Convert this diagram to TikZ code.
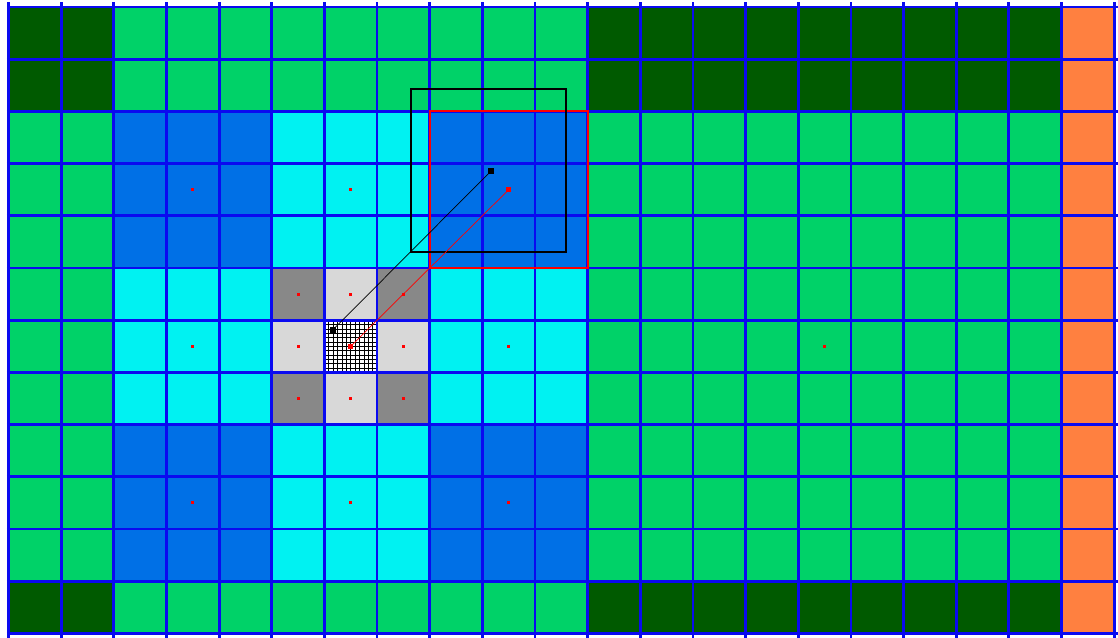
\documentclass[tikz,border=0pt]{standalone}
\definecolor{dkgreen}{RGB}{0,90,0}
\definecolor{ltgreen}{RGB}{0,210,104}
\definecolor{blk}{RGB}{0,112,230}
\definecolor{cyn}{RGB}{0,242,242}
\definecolor{gry}{RGB}{136,136,136}
\definecolor{lgry}{RGB}{216,216,216}
\definecolor{orng}{RGB}{255,128,64}
\definecolor{gridblue}{RGB}{10,10,240}
\tikzset{
  gridline/.style={draw=gridblue, line width=2.8pt},
  fineline/.style={draw=black, line width=0.7pt},
  reddot/.style={rectangle, fill=red, inner sep=0pt, minimum size=3pt},
  redsq/.style={rectangle, fill=red, inner sep=0pt, minimum size=5.5pt},
  blacksq/.style={rectangle, fill=black, inner sep=0pt, minimum size=6pt},
  link/.style={line width=0.7pt},
}
\begin{document}
\begin{tikzpicture}[x=52.65pt,y=-52.2pt]
\useasboundingbox (-0.1614,-0.1341) rectangle (21.0731,12.069);
% base fills
\fill[ltgreen] (0,0) rectangle (20,12);
\fill[orng] (20,0) rectangle (21,12);
\fill[dkgreen] (0,0) rectangle (2,2) (11,0) rectangle (20,2)
               (0,11) rectangle (2,12) (11,11) rectangle (20,12);
\fill[blk] (2,2) rectangle (5,5) (8,2) rectangle (11,5)
           (2,8) rectangle (5,11) (8,8) rectangle (11,11);
\fill[cyn] (5,2) rectangle (8,5) (2,5) rectangle (5,8)
           (8,5) rectangle (11,8) (5,8) rectangle (8,11);
\fill[gry] (5,5) rectangle (6,6) (7,5) rectangle (8,6)
           (5,7) rectangle (6,8) (7,7) rectangle (8,8);
\fill[lgry] (6,5) rectangle (7,6) (5,6) rectangle (6,7)
            (7,6) rectangle (8,7) (6,7) rectangle (7,8);
\fill[white] (6,6) rectangle (7,7);
% fine grid in the centre cell
\foreach \i in {1,...,11} {
  \draw[fineline] ({6+\i/12},6) -- ({6+\i/12},7);
  \draw[fineline] (6,{6+\i/12}) -- (7,{6+\i/12});
}
% main grid
\foreach \i in {0,...,21} \draw[gridline] (\i,-0.09) -- (\i,12.1);
\foreach \j in {0,...,12} \draw[gridline] (-0.03,\j) -- (21.1,\j);
% red dots
\foreach \p/\q [count=\k] in {3.5/3.5,6.5/3.5,3.5/6.5,9.5/6.5,15.5/6.5,3.5/9.5,6.5/9.5,9.5/9.5,
  5.5/5.5,6.5/5.5,7.5/5.5,5.5/6.5,7.5/6.5,5.5/7.5,6.5/7.5,7.5/7.5}
  \node[reddot] (d\k) at (\p,\q) {};
% rectangles
\draw[red, line width=2.2pt] (8,2) rectangle (11,5);
\draw[black, line width=2.6pt] (7.645,1.571) rectangle (10.589,4.693);
% end markers
\node[redsq] (r1) at (6.5,6.5) {};
\node[redsq] (r2) at (9.5,3.5) {};
\node[blacksq] (b1) at (6.158,6.188) {};
\node[blacksq] (b2) at (9.170,3.136) {};
% connectors
\draw[link, black] (b1.center) -- (b2.center);
\draw[link, red] (r1.center) -- (r2.center);
\end{tikzpicture}
\end{document}
